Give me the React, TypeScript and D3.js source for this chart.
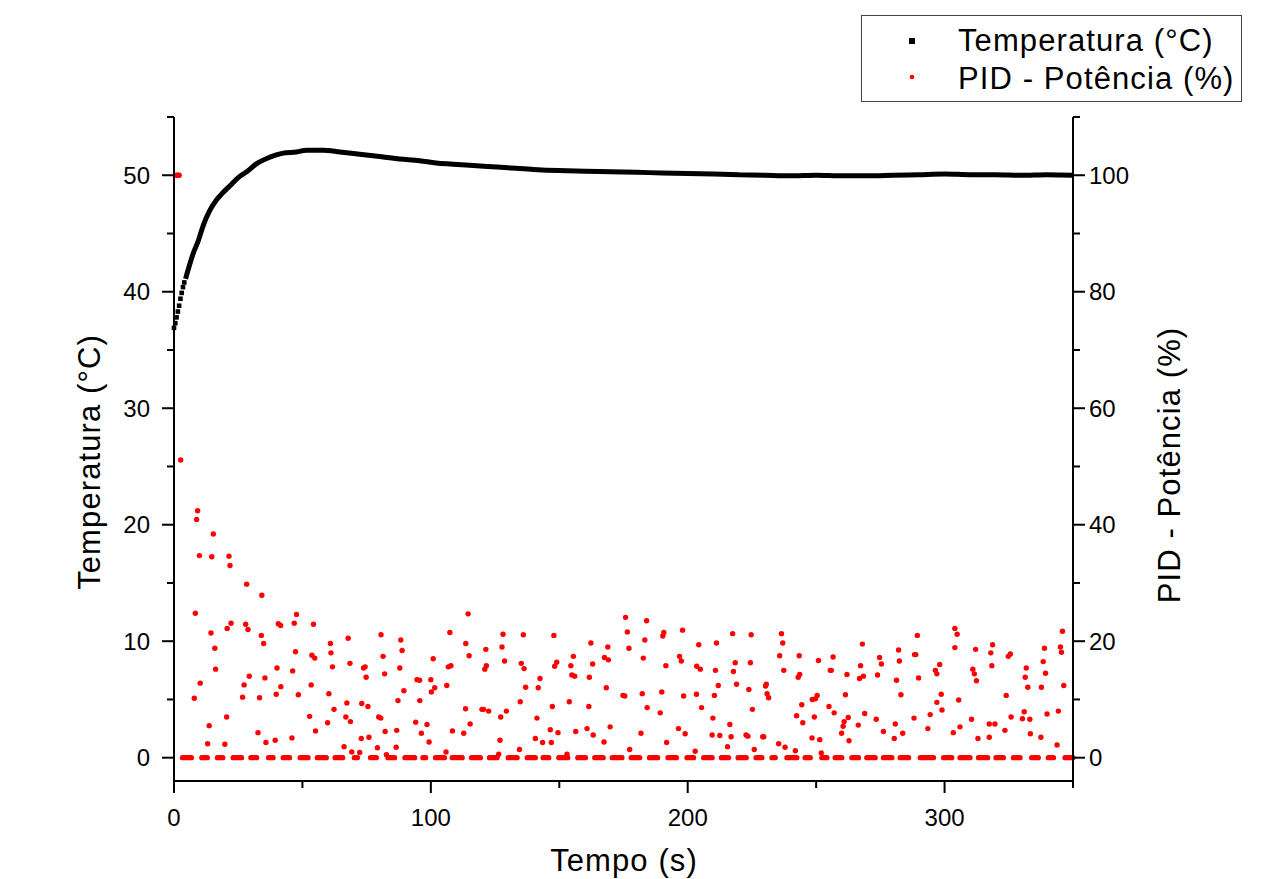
import React from "react";
import * as d3 from "d3";

// temperatura (°C) vs tempo (s)
const tempSeries: [number, number][] = [
  [0, 36.9], [0.5, 37.3], [1, 37.8], [1.5, 38.3], [2, 38.8], [2.5, 39.4], [3, 39.9], [3.5, 40.4],
  [4, 40.8], [4.5, 41.1], [5, 41.5], [6.2, 42.4], [7.5, 43.3], [9.5, 44.4], [11.4, 45.7], [14, 47.0],
  [16.6, 47.9], [18.6, 48.4], [21.8, 49.1], [25, 49.8], [28.3, 50.3], [32.2, 51.0], [37.3, 51.55],
  [42.5, 51.9], [47.7, 52.0], [51.6, 52.15], [58, 52.15], [64.6, 52.0], [72.3, 51.8], [80, 51.6],
  [88, 51.4], [95.7, 51.25], [102, 51.05], [108.6, 50.95], [115, 50.85], [122, 50.75], [130, 50.65],
  [140, 50.5], [150, 50.4], [160, 50.35], [170, 50.3], [180, 50.25], [190, 50.2], [200, 50.15],
  [210, 50.1], [220, 50.05], [230, 50.0], [240, 49.95], [250, 50.0], [260, 49.95], [270, 49.95],
  [280, 50.0], [290, 50.05], [300, 50.1], [310, 50.05], [320, 50.05], [330, 50.0], [340, 50.05], [350, 50.0],
];

// PID - potência (%) : pontos não nulos
const pidPoints: [number, number][] = [
  [1, 100], [1.5, 100], [2, 100],
  [2.6, 51.1], [7.9, 10.2], [8.3, 24.8], [8.8, 40.9], [9.2, 42.4], [9.9, 34.7], [10.2, 12.8],
  [13.1, 2.4], [13.7, 5.5], [14.4, 21.4], [14.7, 34.5], [15.3, 38.4], [15.9, 18.8], [16.2, 15.2],
  [19.8, 2.3], [20.5, 7.0], [20.7, 22.2], [21.4, 34.6], [21.8, 33.0], [22.2, 23.1],
  [26.7, 10.4], [27.3, 12.5], [27.9, 22.9], [28.3, 29.8], [28.8, 22.0], [29.3, 14.0],
  [32.7, 4.3], [33.3, 10.3], [34.0, 21.0], [34.2, 27.9], [34.9, 19.6], [35.4, 13.7], [35.8, 2.6],
  [39.4, 3.0], [39.8, 10.9], [40.1, 15.4], [40.6, 23.0], [41.5, 22.7], [41.6, 12.2],
  [45.9, 3.4], [46.2, 14.9], [46.8, 23.1], [47.3, 18.2], [47.7, 24.6], [48.4, 10.8],
  [52.8, 7.1], [53.4, 12.5], [53.7, 17.6], [54.3, 22.9], [54.8, 17.1], [55.1, 4.6],
  [59.8, 6.0], [60.3, 11.0], [60.9, 19.6], [61.1, 18.0], [61.7, 15.6], [62.3, 8.3],
  [66.2, 1.9], [66.9, 7.0], [67.3, 9.4], [67.8, 20.5], [68.5, 16.2], [68.7, 6.2], [69.2, 1.0],
  [72.3, 0.9], [72.9, 3.3], [73.1, 9.3], [73.8, 15.4], [74.4, 15.6], [74.8, 13.8], [75.5, 8.8], [75.9, 3.5],
  [79.2, 1.7], [79.7, 7.0], [80.5, 6.8], [80.6, 21.1], [81.4, 17.4], [82.0, 14.4], [82.2, 4.5], [82.7, 0.5],
  [86.5, 1.8], [86.7, 4.7], [87.2, 9.8], [87.9, 15.4], [88.3, 20.2], [88.8, 18.4], [89.5, 11.5],
  [94.1, 6.1], [94.6, 13.4], [95.6, 13.3], [95.7, 9.8], [96.3, 4.2], [98.5, 5.7], [99.3, 2.7],
  [100.0, 13.4], [100.2, 11.3], [100.9, 17.0], [101.5, 12.0],
  [105.9, 1.0], [106.2, 12.4], [106.8, 15.6], [107.4, 21.5], [107.8, 15.8], [108.4, 4.6],
  [112.8, 4.2], [113.5, 8.4], [113.6, 19.6], [114.5, 24.7], [114.9, 17.5], [115.3, 5.8],
  [119.9, 8.3], [120.5, 8.3], [121.0, 15.2], [121.4, 18.6], [121.6, 15.8], [122.5, 8.0],
  [126.4, 0.6], [126.9, 3.0], [127.2, 7.0], [127.7, 19.0], [128.1, 21.2], [128.7, 16.6], [129.4, 8.0],
  [134.5, 1.4], [134.8, 9.6], [135.2, 16.2], [136.0, 21.1], [136.3, 15.3], [136.9, 12.1],
  [140.7, 3.3], [141.3, 6.8], [141.8, 12.0], [142.5, 13.6], [143.5, 2.6],
  [146.5, 4.8], [146.9, 2.6], [147.3, 8.8], [147.9, 21.0], [148.2, 15.7], [149.0, 16.4], [149.5, 4.3],
  [153.0, 0.6], [153.9, 9.6], [154.5, 15.8], [154.9, 14.2], [155.5, 17.4], [156.0, 14.0], [156.4, 4.5],
  [160.8, 5.0], [161.5, 8.8], [161.7, 13.8], [162.3, 19.7], [163.0, 16.1], [163.2, 3.9],
  [167.4, 2.7], [167.6, 17.2], [168.3, 12.0], [168.9, 19.0], [169.1, 16.8], [169.8, 5.3],
  [174.8, 10.7], [175.5, 10.6], [175.8, 24.1], [176.5, 21.6], [177.1, 18.8], [177.4, 1.4],
  [181.8, 4.2], [182.3, 11.0], [182.7, 17.1], [183.3, 20.2], [184.0, 23.5], [184.2, 8.6],
  [189.3, 7.7], [189.9, 11.3], [190.3, 20.9], [190.7, 21.5], [191.5, 15.8], [191.8, 2.6],
  [196.4, 5.0], [196.8, 17.4], [197.5, 16.6], [198.0, 21.9], [198.4, 10.6], [199.0, 4.1],
  [202.9, 1.1], [203.4, 10.9], [203.5, 15.7], [204.3, 19.4], [204.9, 15.2], [205.4, 8.6],
  [209.5, 3.9], [209.8, 6.8], [210.4, 10.7], [210.8, 15.0], [211.2, 19.7], [211.9, 12.4], [212.5, 3.8],
  [215.5, 1.9], [216.4, 5.7], [216.9, 3.6], [217.5, 21.3], [217.8, 14.8], [218.5, 16.3], [219.0, 12.6],
  [222.7, 3.9], [223.4, 3.7], [223.8, 11.7], [224.4, 16.3], [224.7, 21.1], [225.2, 8.3], [225.9, 1.4],
  [229.2, 3.6], [229.6, 3.6], [230.3, 12.3], [230.6, 12.6], [230.9, 11.0], [231.5, 10.3],
  [235.4, 2.4], [235.8, 17.5], [236.5, 21.3], [237.0, 19.7], [237.4, 15.0], [237.9, 1.8],
  [241.9, 1.2], [242.4, 7.2], [243.0, 13.8], [243.4, 17.5], [243.6, 14.3], [244.4, 9.1], [244.8, 6.0],
  [248.4, 3.4], [248.5, 10.0], [249.3, 7.0], [249.7, 10.1], [250.4, 10.7], [250.9, 16.7], [251.4, 3.1], [252.0, 0.8],
  [255.0, 8.8], [255.5, 15.0], [255.9, 15.0], [256.6, 17.3], [257.0, 7.7],
  [259.9, 4.2], [260.5, 5.4], [260.9, 6.2], [261.4, 10.8], [262.0, 14.3], [262.5, 6.9], [262.8, 2.9],
  [266.4, 5.6], [266.9, 13.6], [267.3, 15.8], [268.0, 19.5], [268.4, 14.0], [268.9, 7.6],
  [273.4, 6.6], [273.9, 14.2], [274.7, 17.2], [275.4, 16.1], [276.2, 4.5],
  [280.4, 3.3], [280.8, 5.8], [281.3, 13.3], [282.1, 18.5], [282.4, 16.6], [283.0, 10.8], [283.7, 4.2],
  [288.1, 6.8], [288.3, 17.7], [288.8, 17.7], [289.4, 21.0], [289.9, 13.7],
  [293.5, 5.0], [294.4, 7.4], [296.4, 15.0], [297.0, 14.4], [297.0, 9.5], [298.1, 16.0], [298.7, 10.9], [299.0, 8.2],
  [303.4, 4.3], [304.0, 22.2], [304.0, 18.9], [304.9, 21.2], [305.5, 9.9], [306.0, 5.3],
  [310.5, 6.6], [311.0, 15.2], [311.6, 14.4], [312.1, 18.6], [312.4, 13.2], [313.0, 3.3],
  [317.4, 5.8], [317.4, 3.5], [318.0, 18.0], [318.4, 15.8], [318.7, 19.4], [319.6, 5.8],
  [323.5, 4.7], [324.0, 10.7], [324.8, 17.4], [325.6, 17.8], [325.9, 7.0],
  [330.3, 6.7], [331.0, 7.9], [331.4, 13.8], [331.8, 15.4], [332.4, 12.1], [333.2, 6.6], [333.4, 4.1],
  [337.5, 3.5], [337.7, 12.1], [338.4, 16.5], [338.9, 18.8], [339.3, 14.5], [339.9, 7.5],
  [343.8, 2.2], [344.3, 8.0], [345.1, 19.0], [345.5, 18.1], [345.9, 21.7], [346.4, 12.4],
];

// trechos em que a potência ficou em 0 % (início, fim em s)
const pidZeroRuns: [number, number][] = [
  [3.3, 6.8], [10.8, 13.0], [16.9, 19.0], [23.0, 26.3], [29.9, 32.2], [36.8, 38.6], [42.5, 45.0],
  [49.1, 52.2], [55.8, 59.3], [62.7, 65.7], [70.2, 71.4], [76.5, 78.8], [83.3, 85.9], [89.9, 93.7],
  [96.9, 98.0], [101.8, 105.3], [108.3, 112.2], [115.8, 119.3], [122.8, 125.8], [130.1, 133.6],
  [137.5, 140.7], [143.7, 145.9], [149.8, 153.3], [157.2, 160.2], [163.8, 167.1], [170.6, 174.4],
  [178.0, 181.3], [185.1, 188.3], [192.3, 195.6], [199.7, 202.3], [206.2, 209.5], [213.1, 215.9],
  [219.6, 222.8], [226.6, 228.9], [232.8, 234.1], [238.6, 242.5], [245.7, 247.7], [252.2, 254.2],
  [257.4, 260.0], [263.9, 266.5], [269.7, 273.0], [276.2, 279.5], [282.7, 286.0], [290.5, 295.7],
  [299.6, 302.8], [306.0, 309.9], [313.2, 316.8], [320.0, 322.9], [326.8, 329.4], [333.9, 336.5],
  [340.4, 342.4], [346.9, 350],
];

const xMajor = [0, 100, 200, 300];
const xMinor = [50, 150, 250, 350];
const yLeftMajor = [0, 10, 20, 30, 40, 50];
const yLeftMinor = [5, 15, 25, 35, 45, 55];
const yRightMajor = [0, 20, 40, 60, 80, 100];
const yRightMinor = [10, 30, 50, 70, 90, 110];

const FONT = "'Liberation Sans', Arial, Helvetica, sans-serif";
const RED = "#ff0000";

export default function App() {
  const W = 1279, H = 879;
  const left = 174, right = 1073, top = 117, bottom = 781;

  const x = d3.scaleLinear().domain([0, 350]).range([left, right]);
  const yL = d3.scaleLinear().domain([-2, 55]).range([bottom, top]);
  const yR = d3.scaleLinear().domain([-4, 110]).range([bottom, top]);

  const dense = tempSeries.filter(d => d[0] >= 4.5);
  const sparse = tempSeries.filter(d => d[0] < 4.5);
  const line = d3.line<[number, number]>()
    .x(d => x(d[0]))
    .y(d => yL(d[1]))
    .curve(d3.curveMonotoneX);

  const major = 12, minor = 7;
  const axisStroke = { stroke: "#000", strokeWidth: 2 };
  const title = { fontFamily: FONT, fontSize: 31, letterSpacing: 1.1 };

  return (
    <svg width={W} height={H} style={{ position: "absolute", left: 0, top: 0, background: "#fff" }}>
      <rect x={0} y={0} width={W} height={H} fill="#fff" />

      {/* temperatura */}
      <path d={line(dense) || ""} fill="none" stroke="#000" strokeWidth={5} />
      {sparse.map((d, i) => (
        <rect key={"s" + i} x={x(d[0]) - 2.3} y={yL(d[1]) - 2.3} width={4.6} height={4.6} fill="#000" />
      ))}

      {/* PID */}
      {pidZeroRuns.map((d, i) => (
        <line key={"z" + i} x1={x(d[0])} x2={x(d[1])} y1={yR(0)} y2={yR(0)}
          stroke={RED} strokeWidth={5.2} strokeLinecap="round" />
      ))}
      {pidPoints.map((d, i) => (
        <circle key={"p" + i} cx={x(d[0])} cy={yR(d[1])} r={2.7} fill={RED} />
      ))}

      {/* eixos */}
      <line x1={left} x2={left} y1={top} y2={bottom} {...axisStroke} />
      <line x1={right} x2={right} y1={top} y2={bottom} {...axisStroke} />
      <line x1={left} x2={right} y1={bottom} y2={bottom} {...axisStroke} />

      {xMajor.map(v => (
        <g key={"xm" + v}>
          <line x1={x(v)} x2={x(v)} y1={bottom} y2={bottom + major} {...axisStroke} />
          <text x={x(v)} y={826} textAnchor="middle" fontFamily={FONT} fontSize={24}>{v}</text>
        </g>
      ))}
      {xMinor.map(v => (
        <line key={"xn" + v} x1={x(v)} x2={x(v)} y1={bottom} y2={bottom + minor} {...axisStroke} />
      ))}

      {yLeftMajor.map(v => (
        <g key={"lm" + v}>
          <line x1={left - major} x2={left} y1={yL(v)} y2={yL(v)} {...axisStroke} />
          <text x={150} y={yL(v) + 8.5} textAnchor="end" fontFamily={FONT} fontSize={24}>{v}</text>
        </g>
      ))}
      {yLeftMinor.map(v => (
        <line key={"ln" + v} x1={left - minor} x2={left} y1={yL(v)} y2={yL(v)} {...axisStroke} />
      ))}

      {yRightMajor.map(v => (
        <g key={"rm" + v}>
          <line x1={right} x2={right + major} y1={yR(v)} y2={yR(v)} {...axisStroke} />
          <text x={1089} y={yR(v) + 8.5} textAnchor="start" fontFamily={FONT} fontSize={24}>{v}</text>
        </g>
      ))}
      {yRightMinor.map(v => (
        <line key={"rn" + v} x1={right} x2={right + minor} y1={yR(v)} y2={yR(v)} {...axisStroke} />
      ))}

      {/* títulos */}
      <text x={624} y={871} textAnchor="middle" {...title}>Tempo (s)</text>
      <text transform="translate(100,462) rotate(-90)" textAnchor="middle" {...title}>
        Temperatura (°C)
      </text>
      <text transform="translate(1180,465) rotate(-90)" textAnchor="middle" {...title}>
        PID - Potência (%)
      </text>

      {/* legenda */}
      <rect x={861.5} y={15.5} width={380} height={86} fill="#fff" stroke="#444" strokeWidth={1} />
      <rect x={909} y={38} width={6} height={6} fill="#000" />
      <text x={958} y={51} {...title}>Temperatura (°C)</text>
      <circle cx={912} cy={77} r={2.3} fill={RED} />
      <text x={958} y={89} {...title}>PID - Potência (%)</text>
    </svg>
  );
}
